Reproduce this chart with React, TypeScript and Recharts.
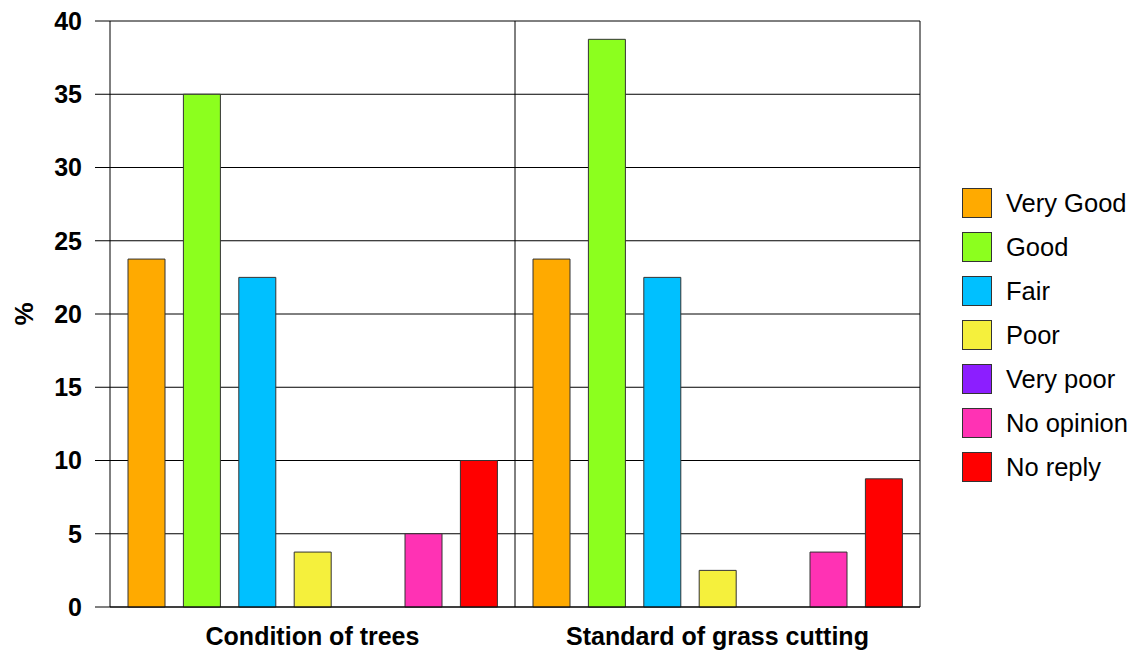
import React from "react";
import { BarChart, Bar, XAxis, YAxis, CartesianGrid, Legend, Label } from "recharts";

const categories = ["Condition of trees", "Standard of grass cutting"];
const seriesNames = ["Very Good", "Good", "Fair", "Poor", "Very poor", "No opinion", "No reply"];
const seriesKeys = ["veryGood", "good", "fair", "poor", "veryPoor", "noOpinion", "noReply"];
const seriesColors = ["#FFAA00", "#8CFF1E", "#00C0FF", "#F5F03C", "#8C1EFF", "#FF32B4", "#FF0000"];
const veryGood = [23.75, 23.75];
const good = [35, 38.75];
const fair = [22.5, 22.5];
const poor = [3.75, 2.5];
const veryPoor = [0, 0];
const noOpinion = [5, 3.75];
const noReply = [10, 8.75];
const yTicks = [0, 5, 10, 15, 20, 25, 30, 35, 40];

const seriesValues = [veryGood, good, fair, poor, veryPoor, noOpinion, noReply];
const data = categories.map((c, i) => {
  const row: any = { name: c };
  seriesKeys.forEach((k, j) => (row[k] = seriesValues[j][i]));
  return row;
});

const font = "Arial, 'Liberation Sans', sans-serif";

const LegendContent = () => (
  <div style={{ fontFamily: font, fontSize: 25.5, color: "#000" }}>
    {seriesNames.map((n, i) => (
      <div key={n} style={{ display: "flex", alignItems: "center", height: 44 }}>
        <div
          style={{
            width: 28,
            height: 28,
            background: seriesColors[i],
            border: "1px solid #333",
            marginRight: 14,
          }}
        />
        <span>{n}</span>
      </div>
    ))}
  </div>
);

export default function App() {
  return (
    <div style={{ position: "absolute", left: 0, top: 0, background: "#fff" }}>
      <BarChart
        width={1141}
        height={653}
        data={data}
        margin={{ top: 21, right: 221, bottom: 6, left: 10 }}
        barCategoryGap={18}
        barGap={18.4}
      >
        <CartesianGrid
          stroke="#000"
          strokeOpacity={1}
          verticalCoordinatesGenerator={({ offset }: any) => [
            offset.left + offset.width / 2,
            offset.left + offset.width,
          ]}
        />
        <XAxis
          dataKey="name"
          height={40}
          tickLine={false}
          tickMargin={14}
          axisLine={{ stroke: "#000" }}
          tick={{ fill: "#000", fontSize: 25, fontWeight: "bold", fontFamily: font }}
        />
        <YAxis
          width={100}
          domain={[0, 40]}
          ticks={yTicks}
          interval={0}
          tickSize={15}
          tickMargin={13}
          axisLine={{ stroke: "#000" }}
          tickLine={{ stroke: "#000" }}
          tick={{ fill: "#000", fontSize: 25, fontWeight: "bold", fontFamily: font }}
        >
          <Label
            value="%"
            angle={-90}
            position="insideLeft"
            offset={14}
            style={{ fill: "#000", fontSize: 26, fontWeight: "bold", fontFamily: font, textAnchor: "middle" }}
          />
        </YAxis>
        <Legend
          layout="horizontal"
          align="center"
          verticalAlign="middle"
          content={<LegendContent />}
          wrapperStyle={{ left: 962, top: 181, width: 179 }}
        />
        {seriesKeys.map((k, i) => (
          <Bar
            key={k}
            dataKey={k}
            name={seriesNames[i]}
            fill={seriesColors[i]}
            stroke="#333"
            strokeWidth={1}
            isAnimationActive={false}
          />
        ))}
      </BarChart>
    </div>
  );
}
